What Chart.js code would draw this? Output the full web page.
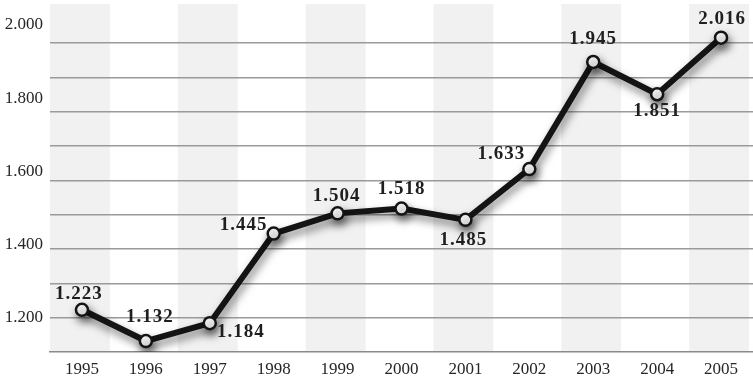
<!DOCTYPE html>
<html>
<head>
<meta charset="utf-8">
<script src="https://cdn.jsdelivr.net/npm/chart.js@4.4.1/dist/chart.umd.min.js"></script>
<style>
  html, body { margin: 0; padding: 0; background: #fff; }
  #wrap { position: relative; width: 753px; height: 380px; }
</style>
</head>
<body>
<div id="wrap"><canvas id="lineChart"></canvas></div>
<script>
// years on the x axis
const years = ['1995', '1996', '1997', '1998', '1999', '2000', '2001', '2002', '2003', '2004', '2005'];
// yearly values
const values = [1223, 1132, 1184, 1445, 1504, 1518, 1485, 1633, 1945, 1851, 2016];
// tick labels shown on the left
const yTicks = [1200, 1400, 1600, 1800, 2000];

// where each value label sits relative to its point
const labelSpots = [
    { dx: -3, dy: -16 }, { dx: 4, dy: -24 }, { dx: 31, dy: 9 }, { dx: -30, dy: -9 },
    { dx: -1, dy: -17 }, { dx: 0, dy: -19 }, { dx: -2, dy: 20 }, { dx: -28, dy: -15 },
    { dx: 0, dy: -23 }, { dx: 0, dy: 17 }, { dx: 1, dy: -19 }
];

const fmt = v => v.toLocaleString('de-DE');
const serif = '"Liberation Serif", "DejaVu Serif", serif';

// drop the extra room Chart.js reserves for edge tick labels
function noEdgePadding(scale) {
    scale.paddingTop = 0;
    scale.paddingBottom = 0;
    scale.paddingLeft = 0;
    scale.paddingRight = 0;
}

// alternating grey columns behind the plot
const columnBands = {
    id: 'columnBands',
    beforeDraw(chart) {
        const { ctx, chartArea, scales } = chart;
        const x = scales.x;
        const step = x.getPixelForValue(1) - x.getPixelForValue(0);
        ctx.save();
        ctx.fillStyle = '#f0f1f0';
        years.forEach((y, i) => {
            if (i % 2) return;
            const cx = x.getPixelForValue(i);
            const left = Math.max(chartArea.left, cx - step / 2);
            const right = Math.min(chart.width, cx + step / 2 - 4);
            ctx.fillRect(left, chartArea.top, right - left, chartArea.bottom - chartArea.top);
        });
        ctx.restore();
    }
};

// soft drop shadow under the line
const lineShadow = {
    id: 'lineShadow',
    beforeDatasetDraw(chart) {
        const ctx = chart.ctx;
        ctx.save();
        ctx.shadowColor = 'rgba(0,0,0,0.5)';
        ctx.shadowBlur = 8;
        ctx.shadowOffsetX = 2;
        ctx.shadowOffsetY = 5;
    },
    afterDatasetDraw(chart) {
        chart.ctx.restore();
    }
};

// value labels next to each point
const valueLabels = {
    id: 'valueLabels',
    afterDatasetsDraw(chart) {
        const ctx = chart.ctx;
        const meta = chart.getDatasetMeta(0);
        ctx.save();
        ctx.font = 'bold 19px ' + serif;
        ctx.letterSpacing = '1px';
        ctx.fillStyle = '#1f1f1f';
        ctx.textAlign = 'center';
        ctx.textBaseline = 'middle';
        meta.data.forEach((pt, i) => {
            const spot = labelSpots[i];
            ctx.fillText(fmt(values[i]), pt.x + spot.dx, pt.y + spot.dy);
        });
        ctx.restore();
    }
};

const ctx = document.getElementById('lineChart').getContext('2d');
new Chart(ctx, {
    type: 'line',
    data: {
        labels: years,
        datasets: [{
            data: values,
            borderColor: '#141414',
            borderWidth: 6,
            tension: 0,
            pointRadius: 6,
            pointBorderWidth: 2.5,
            pointBackgroundColor: '#ffffff',
            pointBorderColor: '#141414',
            yAxisID: 'y'
        }]
    },
    options: {
        responsive: true,
        maintainAspectRatio: false,
        animation: false,
        events: [],
        layout: { autoPadding: false, padding: { top: 4, right: 0, bottom: 0, left: 0 } },
        plugins: {
            legend: { display: false },
            tooltip: { enabled: false }
        },
        scales: {
            x: {
                offset: true,
                grid: { display: false, drawTicks: false },
                border: { display: true, color: '#8a8a8a', width: 1.5 },
                ticks: {
                    color: '#262626',
                    font: { family: serif, size: 17 },
                    padding: 7,
                    maxRotation: 0
                },
                afterFit(scale) { scale.height = 28; noEdgePadding(scale); }
            },
            yLabels: {
                position: 'left',
                min: 1107,
                max: 2057,
                grid: { display: false, drawTicks: false },
                border: { display: false },
                afterBuildTicks(scale) {
                    scale.ticks = yTicks.map(v => ({ value: v }));
                },
                ticks: {
                    color: '#262626',
                    font: { family: serif, size: 17 },
                    padding: 7,
                    callback: v => fmt(v)
                },
                afterFit(scale) { scale.width = 50; noEdgePadding(scale); }
            },
            y: {
                position: 'left',
                min: 1100,
                max: 2114,
                border: { display: false },
                ticks: { display: false, stepSize: 100 },
                grid: {
                    drawTicks: false,
                    lineWidth: 1.5,
                    color: c => (c.tick.value >= 1200 && c.tick.value <= 2000) ? '#9a9a9a' : 'rgba(0,0,0,0)'
                },
                afterFit(scale) { scale.width = 0; noEdgePadding(scale); }
            }
        }
    },
    plugins: [columnBands, lineShadow, valueLabels]
});
</script>
</body>
</html>
